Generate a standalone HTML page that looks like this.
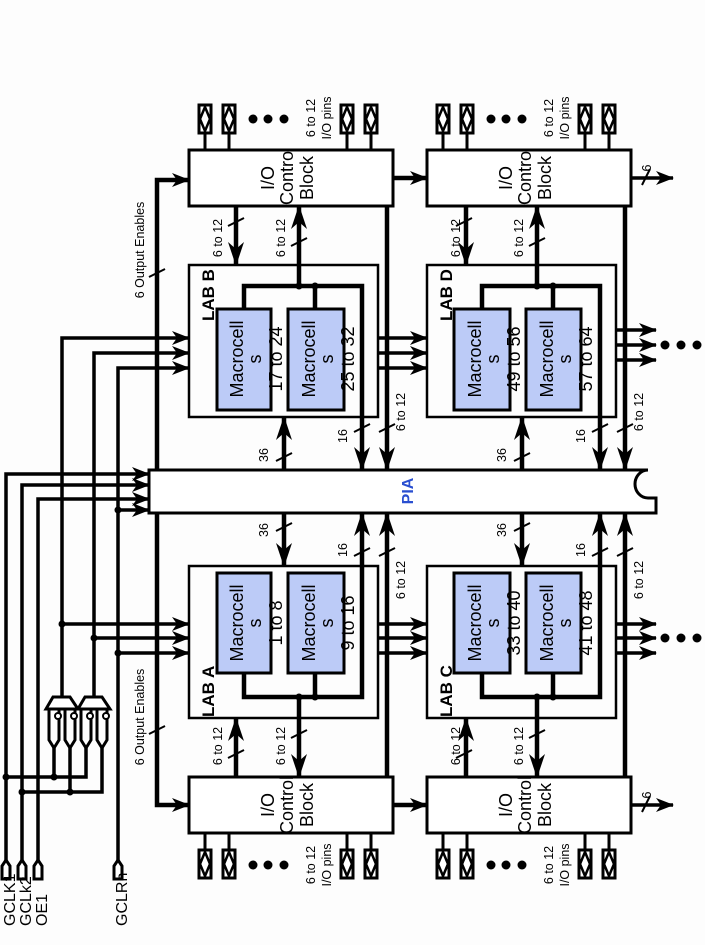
<!DOCTYPE html>
<html><head><meta charset="utf-8"><style>
html,body{margin:0;padding:0;background:#fdfdfd;}
svg{display:block;}
text{font-family:"Liberation Sans",sans-serif;fill:#000;}
.s{font-size:12.5px;}
.m{font-size:18px;}
</style></head><body>
<svg width="705" height="945" viewBox="0 0 705 945" xmlns="http://www.w3.org/2000/svg">
<defs>
<marker id="a" markerUnits="userSpaceOnUse" markerWidth="24" markerHeight="16" refX="23" refY="8" orient="auto"><path d="M0,0 L24,8 L0,16 L7,8 Z" fill="#000"/></marker>
<marker id="b" markerUnits="userSpaceOnUse" markerWidth="18" markerHeight="14" refX="17" refY="7" orient="auto"><path d="M0,0 L18,7 L0,14 L5,7 Z" fill="#000"/></marker>
<g id="pin"><rect x="-6" y="0" width="12" height="28" fill="#fff" stroke="#000" stroke-width="3"/><path d="M0,2 L5,14 L0,26 L-5,14 Z" fill="none" stroke="#000" stroke-width="2.5"/></g>
</defs>
<g fill="none" stroke="#000">
<rect x="189" y="150" width="204" height="56" stroke-width="3" fill="#fff"/>
<rect x="427" y="150" width="204" height="56" stroke-width="3" fill="#fff"/>
<rect x="189" y="777" width="204" height="56" stroke-width="3" fill="#fff"/>
<rect x="427" y="777" width="204" height="56" stroke-width="3" fill="#fff"/>
<rect x="189" y="265" width="189" height="152" stroke-width="2.5"/>
<rect x="427" y="265" width="189" height="152" stroke-width="2.5"/>
<rect x="189" y="566" width="189" height="152" stroke-width="2.5"/>
<rect x="427" y="566" width="189" height="152" stroke-width="2.5"/>
<g fill="#bccbf7" stroke-width="3">
<rect x="217" y="309" width="54" height="101"/><rect x="288" y="309" width="56" height="101"/>
<rect x="454" y="309" width="56" height="101"/><rect x="526" y="309" width="55" height="101"/>
<rect x="217" y="573" width="54" height="100"/><rect x="288" y="573" width="56" height="100"/>
<rect x="454" y="573" width="56" height="100"/><rect x="526" y="573" width="55" height="100"/>
</g>
<path d="M149,470 L648,470 A13,14 0 0 0 648,498 L656,498 L656,513 L149,513 Z" stroke-width="3" fill="#fff"/>
<g stroke-width="3">
<path d="M205,133V150M229,133V150M347,133V150M371,133V150M443,133V150M467,133V150M585,133V150M609,133V150"/>
<path d="M205,833V850M229,833V850M347,833V850M371,833V850M443,833V850M467,833V850M585,833V850M609,833V850"/>
</g>
<g stroke-width="4.5">
<path d="M244,309V286H362V470" marker-end="url(#a)"/>
<path d="M315,309V286"/>
<path d="M299,286V206" marker-end="url(#a)"/>
<path d="M236,206V265" marker-end="url(#a)"/>
<path d="M387,206V470" marker-end="url(#a)"/>
<path d="M284,470V417" marker-end="url(#a)"/>
<path d="M482,309V286H600V470" marker-end="url(#a)"/>
<path d="M553,309V286"/>
<path d="M537,286V206" marker-end="url(#a)"/>
<path d="M466,206V265" marker-end="url(#a)"/>
<path d="M625,206V470" marker-end="url(#a)"/>
<path d="M522,470V417" marker-end="url(#a)"/>
<path d="M244,673V697H362V513" marker-end="url(#a)"/>
<path d="M315,673V697"/>
<path d="M299,697V777" marker-end="url(#a)"/>
<path d="M236,777V718" marker-end="url(#a)"/>
<path d="M387,777V513" marker-end="url(#a)"/>
<path d="M284,513V566" marker-end="url(#a)"/>
<path d="M482,673V697H600V513" marker-end="url(#a)"/>
<path d="M553,673V697"/>
<path d="M537,697V777" marker-end="url(#a)"/>
<path d="M466,777V718" marker-end="url(#a)"/>
<path d="M625,777V513" marker-end="url(#a)"/>
<path d="M522,513V566" marker-end="url(#a)"/>
<path d="M393,178H427" marker-end="url(#b)"/>
<path d="M393,805H427" marker-end="url(#b)"/>
<path d="M157,470V180H189" marker-end="url(#b)"/>
<path d="M157,513V805H189" marker-end="url(#b)"/>
</g>
<g stroke-width="3.5">
<path d="M631,178H673" marker-end="url(#b)"/>
<path d="M631,805H673" marker-end="url(#b)"/>
<path d="M378,338H427" marker-end="url(#b)"/><path d="M378,353H427" marker-end="url(#b)"/><path d="M378,368H427" marker-end="url(#b)"/>
<path d="M378,624H427" marker-end="url(#b)"/><path d="M378,638H427" marker-end="url(#b)"/><path d="M378,653H427" marker-end="url(#b)"/>
<path d="M616,330H656" marker-end="url(#b)"/><path d="M616,345H656" marker-end="url(#b)"/><path d="M616,360H656" marker-end="url(#b)"/>
<path d="M616,624H656" marker-end="url(#b)"/><path d="M616,638H656" marker-end="url(#b)"/><path d="M616,653H656" marker-end="url(#b)"/>
<path d="M62,697V338H189" marker-end="url(#b)"/>
<path d="M94,697V353H189" marker-end="url(#b)"/>
<path d="M118,862V368H189" marker-end="url(#b)"/>
<path d="M62,624H189" marker-end="url(#b)"/>
<path d="M94,638H189" marker-end="url(#b)"/>
<path d="M118,653H189" marker-end="url(#b)"/>
<path d="M6,862V474H149" marker-end="url(#b)"/>
<path d="M22,862V485H149" marker-end="url(#b)"/>
<path d="M38,862V499H149" marker-end="url(#b)"/>
<path d="M118,510H149" marker-end="url(#b)"/>
<path d="M6,777H86V748M22,792H102V748M54,748V777M70,748V792"/>
</g>
<g stroke-width="3" fill="#fff">
<path d="M53,697H70L78,709H46Z"/><path d="M85,697H102L110,709H78Z"/>
<path d="M49,710V740L54,748L59,740V710M65,710V740L70,748L75,740V710M81,710V740L86,748L91,740V710M97,710V740L102,748L107,740V710" fill="none"/>
</g>
<g stroke-width="2" fill="#fff"><circle cx="58" cy="716" r="3"/><circle cx="74" cy="716" r="3"/><circle cx="90" cy="716" r="3"/><circle cx="106" cy="716" r="3"/></g>
<g stroke-width="3" fill="#fff">
<path d="M2,879V866L6,860L10,866V879Z"/><path d="M18,879V866L22,860L26,866V879Z"/><path d="M34,879V866L38,860L42,866V879Z"/><path d="M114,879V866L118,860L122,866V879Z"/>
</g>
<g stroke-width="2">
<path d="M228,226L244,218M291,246L307,238M456,226L472,218M529,246L545,238"/>
<path d="M228,758L244,750M291,738L307,730M456,758L472,750M529,738L545,730"/>
<path d="M276,461L292,453M354,432L370,424M379,432L395,424M514,461L530,453M592,432L608,424M617,432L633,424"/>
<path d="M276,531L292,523M354,556L370,548M379,556L395,548M514,531L530,523M592,556L608,548M617,556L633,548"/>
<path d="M149,277L165,269M149,734L165,726M642,185L650,169M642,812L650,796"/>
</g>
</g>
<g>
<use href="#pin" x="205" y="105"/><use href="#pin" x="229" y="105"/><use href="#pin" x="347" y="105"/><use href="#pin" x="371" y="105"/>
<use href="#pin" x="443" y="105"/><use href="#pin" x="467" y="105"/><use href="#pin" x="585" y="105"/><use href="#pin" x="609" y="105"/>
<use href="#pin" x="205" y="850"/><use href="#pin" x="229" y="850"/><use href="#pin" x="347" y="850"/><use href="#pin" x="371" y="850"/>
<use href="#pin" x="443" y="850"/><use href="#pin" x="467" y="850"/><use href="#pin" x="585" y="850"/><use href="#pin" x="609" y="850"/>
</g>
<g fill="#000">
<circle cx="253" cy="119" r="4.5"/><circle cx="268" cy="119" r="4.5"/><circle cx="284" cy="119" r="4.5"/>
<circle cx="491" cy="119" r="4.5"/><circle cx="506" cy="119" r="4.5"/><circle cx="522" cy="119" r="4.5"/>
<circle cx="253" cy="865" r="4.5"/><circle cx="268" cy="865" r="4.5"/><circle cx="284" cy="865" r="4.5"/>
<circle cx="491" cy="865" r="4.5"/><circle cx="506" cy="865" r="4.5"/><circle cx="522" cy="865" r="4.5"/>
<circle cx="665" cy="345" r="4.5"/><circle cx="681" cy="345" r="4.5"/><circle cx="697" cy="345" r="4.5"/>
<circle cx="665" cy="638" r="4.5"/><circle cx="681" cy="638" r="4.5"/><circle cx="697" cy="638" r="4.5"/>
<circle cx="299" cy="286" r="3.5"/><circle cx="315" cy="286" r="3.5"/><circle cx="537" cy="286" r="3.5"/><circle cx="553" cy="286" r="3.5"/>
<circle cx="299" cy="697" r="3.5"/><circle cx="315" cy="697" r="3.5"/><circle cx="537" cy="697" r="3.5"/><circle cx="553" cy="697" r="3.5"/>
<circle cx="62" cy="624" r="3.5"/><circle cx="94" cy="638" r="3.5"/><circle cx="118" cy="653" r="3.5"/><circle cx="118" cy="510" r="3.5"/>
<circle cx="6" cy="777" r="3.5"/><circle cx="54" cy="777" r="3.5"/><circle cx="22" cy="792" r="3.5"/><circle cx="70" cy="792" r="3.5"/>
</g>
<g class="m" text-anchor="middle">
<text transform="translate(274,178) rotate(-90)">I/O</text><text transform="translate(293,178) rotate(-90)">Contro</text><text transform="translate(313,178) rotate(-90)">Block</text>
<text transform="translate(512,178) rotate(-90)">I/O</text><text transform="translate(531,178) rotate(-90)">Contro</text><text transform="translate(551,178) rotate(-90)">Block</text>
<text transform="translate(274,805) rotate(-90)">I/O</text><text transform="translate(293,805) rotate(-90)">Control</text><text transform="translate(313,805) rotate(-90)">Block</text>
<text transform="translate(512,805) rotate(-90)">I/O</text><text transform="translate(531,805) rotate(-90)">Control</text><text transform="translate(551,805) rotate(-90)">Block</text>
<text transform="translate(243,359) rotate(-90)">Macrocell</text><text transform="translate(261,359) rotate(-90)">s</text><text transform="translate(282,359) rotate(-90)">17 to 24</text>
<text transform="translate(315,359) rotate(-90)">Macrocell</text><text transform="translate(333,359) rotate(-90)">s</text><text transform="translate(354,359) rotate(-90)">25 to 32</text>
<text transform="translate(481,359) rotate(-90)">Macrocell</text><text transform="translate(499,359) rotate(-90)">s</text><text transform="translate(520,359) rotate(-90)">49 to 56</text>
<text transform="translate(553,359) rotate(-90)">Macrocell</text><text transform="translate(571,359) rotate(-90)">s</text><text transform="translate(592,359) rotate(-90)">57 to 64</text>
<text transform="translate(243,623) rotate(-90)">Macrocell</text><text transform="translate(261,623) rotate(-90)">s</text><text transform="translate(282,623) rotate(-90)">1 to 8</text>
<text transform="translate(315,623) rotate(-90)">Macrocell</text><text transform="translate(333,623) rotate(-90)">s</text><text transform="translate(354,623) rotate(-90)">9 to 16</text>
<text transform="translate(481,623) rotate(-90)">Macrocell</text><text transform="translate(499,623) rotate(-90)">s</text><text transform="translate(520,623) rotate(-90)">33 to 40</text>
<text transform="translate(553,623) rotate(-90)">Macrocell</text><text transform="translate(571,623) rotate(-90)">s</text><text transform="translate(592,623) rotate(-90)">41 to 48</text>
</g>
<g style="font-size:17px;font-weight:bold">
<text transform="translate(214,321) rotate(-90)">LAB B</text>
<text transform="translate(452,321) rotate(-90)">LAB D</text>
<text transform="translate(214,717) rotate(-90)">LAB A</text>
<text transform="translate(452,717) rotate(-90)">LAB C</text>
</g>
<text transform="translate(413,491) rotate(-90)" text-anchor="middle" style="font-size:16px;font-weight:bold;fill:#2a4fd0">PIA</text>
<g class="s" text-anchor="middle">
<text transform="translate(222,238) rotate(-90)">6 to 12</text><text transform="translate(285,238) rotate(-90)">6 to 12</text>
<text transform="translate(460,238) rotate(-90)">6 to 12</text><text transform="translate(523,238) rotate(-90)">6 to 12</text>
<text transform="translate(222,746) rotate(-90)">6 to 12</text><text transform="translate(285,746) rotate(-90)">6 to 12</text>
<text transform="translate(460,746) rotate(-90)">6 to 12</text><text transform="translate(523,746) rotate(-90)">6 to 12</text>
<text transform="translate(268,455) rotate(-90)">36</text><text transform="translate(506,455) rotate(-90)">36</text>
<text transform="translate(268,530) rotate(-90)">36</text><text transform="translate(506,530) rotate(-90)">36</text>
<text transform="translate(347,436) rotate(-90)">16</text><text transform="translate(585,436) rotate(-90)">16</text>
<text transform="translate(347,550) rotate(-90)">16</text><text transform="translate(585,550) rotate(-90)">16</text>
<text transform="translate(405,412) rotate(-90)">6 to 12</text><text transform="translate(643,412) rotate(-90)">6 to 12</text>
<text transform="translate(405,580) rotate(-90)">6 to 12</text><text transform="translate(643,580) rotate(-90)">6 to 12</text>
<text transform="translate(315,118) rotate(-90)">6 to 12</text><text transform="translate(331,118) rotate(-90)">I/O pins</text>
<text transform="translate(553,118) rotate(-90)">6 to 12</text><text transform="translate(569,118) rotate(-90)">I/O pins</text>
<text transform="translate(315,865) rotate(-90)">6 to 12</text><text transform="translate(331,865) rotate(-90)">I/O pins</text>
<text transform="translate(553,865) rotate(-90)">6 to 12</text><text transform="translate(569,865) rotate(-90)">I/O pins</text>
<text transform="translate(144,250) rotate(-90)">6 Output Enables</text>
<text transform="translate(144,717) rotate(-90)">6 Output Enables</text>
<text transform="translate(651,168) rotate(-90)">6</text>
<text transform="translate(651,795) rotate(-90)">6</text>
</g>
<g style="font-size:16px">
<text transform="translate(15,926) rotate(-90)">GCLK1</text>
<text transform="translate(31,926) rotate(-90)">GCLk2</text>
<text transform="translate(47,926) rotate(-90)">OE1</text>
<text transform="translate(127,926) rotate(-90)">GCLRn</text>
</g>
</svg>
</body></html>
